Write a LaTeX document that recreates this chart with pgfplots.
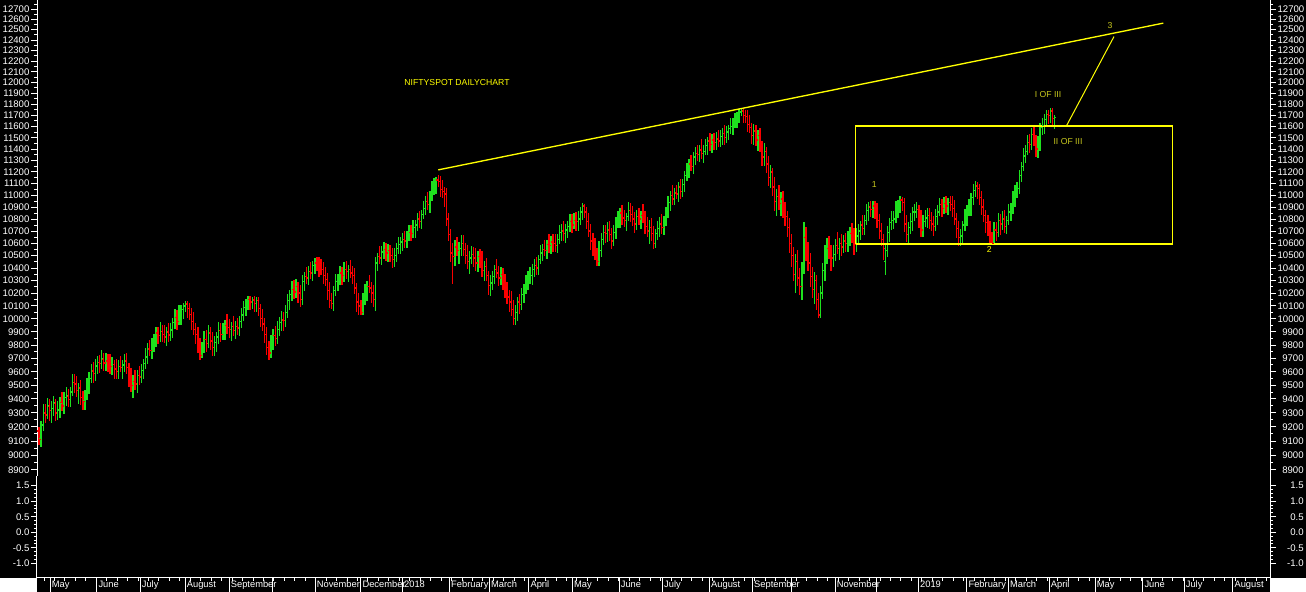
\documentclass[border=0pt]{standalone}
\usepackage{pgfplots}
\pgfplotsset{compat=1.18}
\usepackage{pgfplotstable}
\usepackage{fontspec}
\setmainfont{Liberation Sans}

\definecolor{upgreen}{RGB}{30,225,30}
\definecolor{dnred}{RGB}{250,0,0}
\definecolor{ylw}{RGB}{255,255,0}
\definecolor{olv}{RGB}{200,200,30}

% daily bars: index, open, high, low, close
\pgfplotstableread{
i o h l c
0 9170 9200 9070 9110
1 9120 9245 9060 9210
2 9215 9365 9170 9300
3 9300 9365 9225 9285
4 9290 9410 9255 9350
5 9345 9400 9245 9315
6 9315 9385 9230 9330
7 9330 9420 9275 9370
8 9365 9400 9240 9300
9 9300 9385 9250 9320
10 9320 9415 9265 9370
11 9375 9450 9315 9350
12 9350 9450 9290 9410
13 9410 9485 9350 9425
14 9420 9470 9345 9395
15 9395 9485 9340 9450
16 9455 9585 9420 9520
17 9520 9585 9445 9510
18 9505 9565 9415 9460
19 9460 9520 9365 9480
20 9480 9540 9360 9410
21 9410 9460 9320 9380
22 9385 9465 9320 9430
23 9430 9555 9390 9490
24 9495 9595 9435 9550
25 9550 9660 9515 9600
26 9605 9670 9515 9585
27 9585 9695 9535 9640
28 9645 9720 9585 9670
29 9670 9725 9590 9660
30 9660 9765 9620 9695
31 9690 9740 9605 9665
32 9665 9740 9605 9680
33 9680 9730 9600 9670
34 9665 9730 9580 9640
35 9640 9710 9575 9655
36 9655 9690 9550 9620
37 9620 9695 9550 9600
38 9600 9685 9545 9640
39 9640 9720 9595 9630
40 9630 9690 9545 9650
41 9650 9735 9600 9680
42 9680 9740 9585 9630
43 9630 9665 9490 9560
44 9560 9630 9450 9500
45 9500 9575 9410 9530
46 9530 9610 9465 9510
47 9510 9610 9445 9570
48 9570 9645 9500 9560
49 9560 9660 9515 9610
50 9610 9695 9550 9660
51 9660 9775 9620 9710
52 9715 9815 9655 9770
53 9770 9840 9715 9760
54 9760 9850 9695 9815
55 9815 9885 9750 9830
56 9830 9940 9785 9890
57 9890 9935 9810 9870
58 9870 9975 9820 9905
59 9905 9950 9825 9880
60 9880 9950 9815 9860
61 9860 9940 9795 9900
62 9900 9965 9820 9875
63 9875 9965 9830 9915
64 9915 10005 9855 9970
65 9970 10075 9920 10010
66 10010 10065 9915 9980
67 9980 10110 9950 10050
68 10050 10110 9955 10070
69 10070 10125 10000 10100
70 10100 10140 10050 10115
71 10115 10135 10010 10080
72 10080 10120 9990 10035
73 10035 10085 9915 9980
74 9980 10050 9875 9920
75 9920 9965 9805 9880
76 9880 9940 9740 9800
77 9800 9850 9690 9720
78 9720 9825 9700 9790
79 9790 9905 9740 9840
80 9840 9915 9745 9810
81 9810 9950 9775 9890
82 9890 9935 9765 9830
83 9830 9895 9720 9780
84 9780 9870 9715 9820
85 9820 9895 9750 9860
86 9860 9975 9810 9910
87 9910 9965 9825 9880
88 9880 9970 9835 9900
89 9900 9990 9835 9950
90 9950 10035 9880 9935
91 9935 10000 9855 9920
92 9920 9975 9830 9940
93 9940 10025 9870 9910
94 9910 9985 9845 9940
95 9940 10010 9875 9930
96 9930 10020 9865 9980
97 9980 10085 9930 10030
98 10030 10140 9985 10090
99 10090 10155 10020 10120
100 10120 10175 10070 10150
101 10150 10180 10065 10130
102 10130 10170 10075 10145
103 10145 10175 10055 10120
104 10120 10170 10050 10140
105 10140 10170 10025 10080
106 10080 10115 9940 10000
107 10000 10075 9910 9960
108 9960 10005 9815 9880
109 9880 9940 9725 9780
110 9780 9830 9685 9740
111 9740 9875 9700 9820
112 9820 9920 9765 9870
113 9870 9945 9790 9850
114 9850 9985 9810 9920
115 9920 10015 9865 9970
116 9970 10060 9905 9990
117 9990 10050 9905 9985
118 9985 10105 9940 10050
119 10050 10190 10005 10140
120 10140 10225 10070 10190
121 10190 10295 10140 10230
122 10230 10305 10155 10210
123 10210 10310 10165 10250
124 10250 10290 10125 10200
125 10200 10265 10090 10150
126 10150 10340 10105 10290
127 10290 10365 10220 10330
128 10330 10405 10270 10320
129 10320 10415 10265 10370
130 10370 10450 10315 10360
131 10360 10460 10295 10420
132 10420 10480 10350 10440
133 10440 10490 10375 10420
134 10420 10485 10330 10400
135 10400 10470 10340 10390
136 10390 10445 10275 10340
137 10340 10410 10255 10310
138 10310 10360 10145 10220
139 10220 10285 10080 10140
140 10140 10200 10075 10120
141 10120 10255 10060 10220
142 10220 10355 10180 10290
143 10290 10355 10215 10300
144 10300 10420 10265 10360
145 10360 10410 10265 10340
146 10340 10445 10290 10390
147 10390 10460 10315 10370
148 10370 10425 10290 10390
149 10390 10465 10320 10360
150 10360 10415 10275 10340
151 10340 10400 10195 10240
152 10240 10280 10055 10130
153 10130 10205 10030 10100
154 10100 10150 10030 10050
155 10050 10205 10030 10170
156 10170 10275 10110 10210
157 10210 10295 10135 10250
158 10250 10340 10205 10240
159 10240 10290 10125 10200
160 10200 10265 10090 10150
161 10150 10490 10060 10440
162 10440 10525 10380 10490
163 10490 10575 10430 10480
164 10480 10575 10425 10530
165 10530 10610 10475 10550
166 10550 10600 10455 10520
167 10520 10595 10450 10540
168 10540 10590 10445 10500
169 10500 10565 10400 10470
170 10470 10565 10410 10500
171 10500 10605 10445 10560
172 10560 10650 10515 10590
173 10590 10650 10515 10610
174 10610 10685 10540 10630
175 10630 10700 10565 10620
176 10620 10705 10560 10670
177 10670 10755 10620 10690
178 10690 10755 10615 10680
179 10680 10790 10645 10730
180 10730 10790 10645 10750
181 10750 10855 10700 10800
182 10800 10870 10725 10780
183 10780 10875 10720 10840
184 10840 10955 10800 10890
185 10890 10995 10835 10950
186 10950 11030 10875 10920
187 10920 11040 10855 11000
188 11000 11125 10950 11070
189 11070 11150 11005 11090
190 11090 11160 11010 11130
191 11130 11175 11070 11120
192 11120 11165 10985 11050
193 11050 11130 10975 11030
194 11030 11070 10905 11010
195 11010 11065 10740 10800
196 10800 10850 10615 10670
197 10670 10715 10450 10520
198 10520 10600 10275 10490
199 10490 10625 10415 10570
200 10570 10650 10495 10540
201 10540 10610 10435 10560
202 10560 10665 10500 10600
203 10600 10670 10495 10550
204 10550 10605 10430 10500
205 10500 10585 10390 10450
206 10450 10535 10355 10480
207 10480 10580 10435 10510
208 10510 10570 10405 10480
209 10480 10565 10380 10440
210 10440 10540 10365 10490
211 10490 10555 10400 10460
212 10460 10535 10330 10380
213 10380 10455 10295 10410
214 10410 10480 10295 10340
215 10340 10380 10185 10260
216 10260 10345 10180 10280
217 10280 10380 10225 10330
218 10330 10425 10270 10390
219 10390 10475 10320 10360
220 10360 10415 10255 10320
221 10320 10410 10265 10350
222 10350 10400 10225 10300
223 10300 10355 10160 10220
224 10220 10290 10115 10170
225 10170 10225 10050 10130
226 10130 10215 10020 10070
227 10070 10145 9955 10000
228 10000 10110 9955 10050
229 10050 10170 9985 10130
230 10130 10195 10040 10110
231 10110 10240 10065 10190
232 10190 10275 10120 10240
233 10240 10345 10190 10280
234 10280 10375 10225 10330
235 10330 10410 10275 10340
236 10340 10430 10265 10390
237 10390 10475 10330 10420
238 10420 10490 10345 10400
239 10400 10505 10340 10470
240 10470 10585 10430 10520
241 10520 10595 10455 10550
242 10550 10630 10495 10540
243 10540 10630 10475 10590
244 10590 10675 10520 10580
245 10580 10660 10515 10610
246 10610 10675 10530 10600
247 10600 10675 10530 10580
248 10580 10675 10525 10630
249 10630 10750 10595 10690
250 10690 10760 10615 10700
251 10700 10785 10620 10680
252 10680 10760 10605 10710
253 10710 10785 10640 10740
254 10740 10845 10690 10780
255 10780 10845 10685 10750
256 10750 10850 10715 10790
257 10790 10860 10705 10780
258 10780 10865 10700 10800
259 10800 10900 10755 10860
260 10860 10935 10790 10910
261 10910 10930 10810 10860
262 10860 10905 10715 10780
263 10780 10850 10655 10700
264 10700 10760 10545 10620
265 10620 10685 10500 10560
266 10560 10640 10465 10520
267 10520 10565 10415 10450
268 10450 10615 10420 10540
269 10540 10685 10485 10630
270 10630 10750 10585 10690
271 10690 10750 10605 10680
272 10680 10775 10610 10710
273 10710 10780 10615 10670
274 10670 10725 10550 10620
275 10620 10755 10580 10690
276 10690 10815 10635 10770
277 10770 10870 10725 10800
278 10800 10890 10725 10850
279 10850 10915 10750 10810
280 10810 10880 10735 10790
281 10790 10855 10700 10820
282 10820 10945 10780 10870
283 10870 10935 10775 10840
284 10840 10910 10745 10800
285 10800 10860 10685 10760
286 10760 10875 10710 10820
287 10820 10890 10755 10800
288 10800 10865 10720 10830
289 10830 10925 10770 10810
290 10810 10865 10675 10740
291 10740 10820 10655 10700
292 10700 10790 10595 10730
293 10730 10805 10620 10680
294 10680 10740 10555 10600
295 10600 10715 10560 10680
296 10680 10785 10630 10720
297 10720 10815 10655 10760
298 10760 10840 10675 10730
299 10730 10830 10665 10790
300 10790 10905 10740 10850
301 10850 10990 10805 10940
302 10940 11035 10870 11000
303 11000 11085 10920 10970
304 10970 11065 10915 11020
305 11020 11090 10965 11010
306 11010 11110 10945 11070
307 11070 11135 10970 11030
308 11030 11140 10985 11090
309 11090 11205 11030 11170
310 11170 11275 11120 11210
311 11210 11315 11145 11270
312 11270 11350 11205 11250
313 11250 11370 11185 11330
314 11330 11415 11260 11360
315 11360 11440 11295 11350
316 11350 11435 11290 11390
317 11390 11485 11310 11360
318 11360 11435 11275 11380
319 11380 11490 11345 11430
320 11430 11510 11345 11470
321 11470 11545 11380 11440
322 11440 11530 11365 11480
323 11480 11545 11390 11460
324 11460 11555 11390 11490
325 11490 11565 11415 11470
326 11470 11570 11415 11510
327 11510 11590 11435 11540
328 11540 11615 11440 11500
329 11500 11600 11455 11550
330 11550 11615 11480 11580
331 11580 11675 11530 11600
332 11600 11675 11525 11630
333 11630 11720 11585 11670
334 11670 11730 11585 11690
335 11690 11755 11630 11730
336 11730 11765 11695 11740
337 11740 11760 11630 11700
338 11700 11750 11630 11690
339 11690 11745 11555 11620
340 11620 11700 11545 11590
341 11590 11630 11445 11520
342 11520 11625 11440 11560
343 11560 11610 11425 11480
344 11480 11565 11380 11520
345 11520 11585 11370 11420
346 11420 11475 11255 11330
347 11330 11450 11255 11380
348 11380 11420 11195 11270
349 11270 11335 11080 11150
350 11150 11260 11065 11200
351 11200 11235 10990 11070
352 11070 11155 10870 10950
353 10950 11055 10825 10990
354 10990 11090 10875 10930
355 10930 11030 10825 10970
356 10970 11035 10810 10880
357 10880 10940 10745 10820
358 10820 10865 10650 10730
359 10730 10805 10520 10600
360 10600 10675 10405 10500
361 10500 10570 10295 10350
362 10350 10510 10205 10450
363 10450 10545 10260 10320
364 10320 10400 10185 10250
365 10250 10445 10150 10400
366 10400 10775 10350 10650
367 10650 10735 10455 10530
368 10530 10610 10375 10440
369 10440 10520 10245 10330
370 10330 10405 10160 10230
371 10230 10370 10115 10300
372 10300 10345 10070 10150
373 10150 10200 10004 10030
374 10030 10255 10010 10200
375 10200 10440 10155 10380
376 10380 10590 10295 10530
377 10530 10645 10430 10560
378 10560 10660 10475 10530
379 10530 10585 10380 10480
380 10480 10585 10410 10510
381 10510 10635 10455 10580
382 10580 10690 10515 10560
383 10560 10640 10465 10600
384 10600 10675 10500 10570
385 10570 10670 10525 10620
386 10620 10685 10530 10600
387 10600 10705 10530 10640
388 10640 10735 10575 10680
389 10680 10770 10605 10650
390 10650 10730 10505 10590
391 10590 10725 10530 10660
392 10660 10760 10605 10700
393 10700 10785 10630 10750
394 10750 10835 10670 10720
395 10720 10835 10665 10790
396 10790 10930 10755 10870
397 10870 10945 10785 10900
398 10900 10955 10820 10880
399 10880 10950 10805 10910
400 10910 10950 10800 10870
401 10870 10935 10730 10790
402 10790 10845 10635 10700
403 10700 10770 10575 10630
404 10630 10680 10465 10560
405 10450 10600 10340 10540
406 10540 10740 10485 10690
407 10690 10805 10610 10770
408 10770 10865 10710 10790
409 10790 10865 10715 10800
410 10800 10950 10765 10890
411 10890 10960 10805 10910
412 10910 10990 10850 10960
413 10960 10985 10865 10940
414 10940 10975 10690 10760
415 10760 10835 10610 10670
416 10670 10775 10605 10730
417 10730 10850 10675 10780
418 10780 10900 10705 10860
419 10860 10925 10780 10860
420 10860 10940 10805 10880
421 10880 10915 10730 10800
422 10800 10875 10650 10710
423 10710 10835 10655 10780
424 10780 10880 10735 10810
425 10810 10890 10725 10830
426 10830 10895 10720 10790
427 10790 10860 10705 10760
428 10760 10825 10660 10740
429 10740 10885 10700 10820
430 10820 10915 10755 10860
431 10860 10980 10825 10920
432 10920 10970 10815 10890
433 10890 10985 10840 10930
434 10930 10995 10855 10910
435 10910 10975 10830 10940
436 10940 10995 10870 10920
437 10920 10995 10815 10890
438 10890 10960 10755 10800
439 10800 10850 10645 10720
440 10720 10785 10580 10650
441 10650 10720 10575 10660
442 10660 10785 10590 10750
443 10750 10885 10700 10820
444 10820 10915 10745 10870
445 10870 10970 10825 10900
446 10900 11020 10825 10980
447 10980 11095 10920 11040
448 11040 11120 10985 11080
449 11080 11110 10970 11060
450 11060 11100 10920 10980
451 10980 11035 10835 10900
452 10900 10970 10775 10830
453 10830 10880 10685 10770
454 10770 10835 10660 10720
455 10720 10780 10600 10650
456 10650 10695 10585 10600
457 10600 10775 10590 10710
458 10710 10775 10615 10690
459 10690 10850 10655 10790
460 10790 10840 10665 10760
461 10760 10865 10710 10800
462 10800 10880 10685 10740
463 10740 10825 10680 10790
464 10790 10925 10750 10860
465 10860 10935 10785 10880
466 10880 11040 10845 10980
467 10980 11090 10905 11050
468 11050 11115 10980 11060
469 11060 11220 11015 11170
470 11170 11285 11110 11250
471 11250 11405 11210 11340
472 11340 11435 11275 11380
473 11380 11520 11345 11460
474 11460 11530 11365 11440
475 11440 11585 11390 11530
476 11530 11600 11425 11480
477 11480 11525 11330 11400
478 11400 11515 11320 11440
479 11440 11635 11385 11590
480 11590 11680 11525 11610
481 11610 11710 11535 11660
482 11660 11750 11600 11710
483 11710 11750 11620 11700
484 11700 11765 11630 11740
485 11740 11765 11600 11670
486 11670 11705 11580 11680
}\nifty

\pgfdeclareplotmark{otick}{\pgfpathmoveto{\pgfqpoint{-1.3pt}{0pt}}\pgfpathlineto{\pgfqpoint{0pt}{0pt}}\pgfusepathqstroke}
\pgfdeclareplotmark{ctick}{\pgfpathmoveto{\pgfqpoint{0pt}{0pt}}\pgfpathlineto{\pgfqpoint{1.3pt}{0pt}}\pgfusepathqstroke}

\tikzset{
  mlab/.style={anchor=base west, inner sep=0pt, xshift=1.2pt, yshift=-7.2pt, white, font=\fontsize{7}{8}\selectfont},
  note/.style={inner sep=0pt, font=\fontsize{6.5}{7}\selectfont},
}

\begin{document}
\begin{tikzpicture}
\useasboundingbox (0,0) rectangle (979.5pt,444pt);
\fill[black] (0,0) rectangle (979.5pt,444pt);
\fill[white] (0,0) rectangle (27.75pt,10.5pt);
\fill[white] (952.5pt,0) rectangle (979.5pt,10.5pt);

% price pane, labels on the left, with the bars
\begin{axis}[scale only axis, width=924.75pt, height=357pt,
    at={(27.75pt,444pt)}, anchor=north west,
    xmin=37, xmax=1270, ymode=log, ymin=8859, ymax=12791,
    axis x line=none, axis y line*=left,
    axis line style={white, line width=0.75pt},
    tick style={white, line width=0.75pt},
    ytick align=outside, major tick length=4.5pt, minor tick length=2.25pt,
    yticklabel style={white, font=\fontsize{7.2}{8}\selectfont, inner sep=1pt},
    ytick={8900,9000,...,12700},
    yticklabels={8900,9000,9100,9200,9300,9400,9500,9600,9700,9800,9900,10000,10100,10200,10300,10400,10500,10600,10700,10800,10900,11000,11100,11200,11300,11400,11500,11600,11700,11800,11900,12000,12100,12200,12300,12400,12500,12600,12700},
    minor ytick={8950,9050,...,12750},
    unbounded coords=discard]
  \addplot[only marks, mark=ctick, color=upgreen, mark options={solid, line width=1pt},
      restrict expr to domain={\thisrow{c}-\thisrow{o}}{0:5000},
      error bars/.cd, y dir=both, y explicit, error mark=none,
      error bar style={draw=upgreen, line width=1pt}]
    table[x expr=39+2.09*\thisrow{i}, y=c,
          y error plus expr=\thisrow{h}-\thisrow{c},
          y error minus expr=\thisrow{c}-\thisrow{l}] {\nifty};
  \addplot[only marks, mark=otick, color=upgreen, mark options={solid, line width=1pt},
      restrict expr to domain={\thisrow{c}-\thisrow{o}}{0:5000}]
    table[x expr=39+2.09*\thisrow{i}, y=o] {\nifty};
  \addplot[only marks, mark=ctick, color=dnred, mark options={solid, line width=1pt},
      restrict expr to domain={\thisrow{c}-\thisrow{o}}{-5000:-0.5},
      error bars/.cd, y dir=both, y explicit, error mark=none,
      error bar style={draw=dnred, line width=1pt}]
    table[x expr=39+2.09*\thisrow{i}, y=c,
          y error plus expr=\thisrow{h}-\thisrow{c},
          y error minus expr=\thisrow{c}-\thisrow{l}] {\nifty};
  \addplot[only marks, mark=otick, color=dnred, mark options={solid, line width=1pt},
      restrict expr to domain={\thisrow{c}-\thisrow{o}}{-5000:-0.5}]
    table[x expr=39+2.09*\thisrow{i}, y=o] {\nifty};

  % drawn lines
  \addplot[ylw, line width=1pt] coordinates {(438.3,11218) (1163.3,12563)};
  \addplot[ylw, line width=1.1pt] coordinates {(855.3,10594) (1172.7,10594) (1172.7,11603) (855.3,11603) (855.3,10594)};
  \addplot[ylw, line width=0.75pt] coordinates {(1066.7,11610) (1114,12434)};

  \node[note, ylw] at (axis cs:457,12004) {NIFTYSPOT DAILYCHART};
  \node[note, olv] at (axis cs:1110,12536) {3};
  \node[note, olv] at (axis cs:1048,11886) {I OF III};
  \node[note, olv] at (axis cs:1068,11466) {II OF III};
  \node[note, olv] at (axis cs:874.3,11090) {1};
  \node[note, ylw] at (axis cs:989.3,10553) {2};
\end{axis}

% price pane, labels on the right
\begin{axis}[scale only axis, width=924.75pt, height=357pt,
    at={(27.75pt,444pt)}, anchor=north west,
    xmin=37, xmax=1270, ymode=log, ymin=8859, ymax=12791,
    axis x line=none, axis y line*=right,
    axis line style={white, line width=0.75pt},
    tick style={white, line width=0.75pt},
    ytick align=outside, major tick length=4.5pt, minor tick length=2.25pt,
    yticklabel style={white, font=\fontsize{7.2}{8}\selectfont, inner sep=1pt, text width=19.5pt, align=right},
    ytick={8900,9000,...,12700},
    yticklabels={8900,9000,9100,9200,9300,9400,9500,9600,9700,9800,9900,10000,10100,10200,10300,10400,10500,10600,10700,10800,10900,11000,11100,11200,11300,11400,11500,11600,11700,11800,11900,12000,12100,12200,12300,12400,12500,12600,12700},
    minor ytick={8950,9050,...,12750}]
\end{axis}

% lower pane, both sides
\begin{axis}[scale only axis, width=924.75pt, height=76.5pt,
    at={(27.75pt,87pt)}, anchor=north west,
    xmin=37, xmax=1270, ymin=-1.47, ymax=1.81,
    axis x line=none, axis y line*=left,
    axis line style={white, line width=0.75pt},
    tick style={white, line width=0.75pt},
    ytick align=outside, major tick length=4.5pt, minor tick length=2.25pt,
    yticklabel style={white, font=\fontsize{7.2}{8}\selectfont, inner sep=1pt},
    ytick={-1,-0.5,0,0.5,1,1.5}, yticklabels={-1.0,-0.5,0.0,0.5,1.0,1.5},
    minor y tick num=3]
\end{axis}
\begin{axis}[scale only axis, width=924.75pt, height=76.5pt,
    at={(27.75pt,87pt)}, anchor=north west,
    xmin=37, xmax=1270, ymin=-1.47, ymax=1.81,
    axis x line=none, axis y line*=right,
    axis line style={white, line width=0.75pt},
    tick style={white, line width=0.75pt},
    ytick align=outside, major tick length=4.5pt, minor tick length=2.25pt,
    yticklabel style={white, font=\fontsize{7.2}{8}\selectfont, inner sep=1pt, text width=19.5pt, align=right},
    ytick={-1,-0.5,0,0.5,1,1.5}, yticklabels={-1.0,-0.5,0.0,0.5,1.0,1.5},
    minor y tick num=3]
\end{axis}

% date axis
\begin{axis}[scale only axis, width=924.75pt, height=76.5pt,
  at={(27.75pt,87pt)}, anchor=north west,
  xmin=37, xmax=1270, ymin=-1.47, ymax=1.81,
  axis y line=none, axis x line*=bottom,
  axis line style={white, line width=0.75pt},
  tick style={white, line width=0.75pt},
  xtick align=outside, major tick length=10.5pt, minor tick length=2.25pt,
  xtick={50,96.7,140,185,229,272.7,315,360.7,402.3,449.3,489.3,528.7,572.3,619,662.3,709.3,752.3,791.7,835,876,918.3,966.7,1008.3,1049,1095,1142.7,1184,1232.7},
  xticklabel={},
  minor xtick={44,54.45,...,1266},
  clip=false]
  \node[mlab] at (axis cs:50,-1.47) {May};
  \node[mlab] at (axis cs:96.7,-1.47) {June};
  \node[mlab] at (axis cs:140,-1.47) {July};
  \node[mlab] at (axis cs:185,-1.47) {August};
  \node[mlab] at (axis cs:229,-1.47) {September};
  \node[mlab] at (axis cs:315,-1.47) {November};
  \node[mlab] at (axis cs:360.7,-1.47) {December};
  \node[mlab] at (axis cs:402.3,-1.47) {2018};
  \node[mlab] at (axis cs:449.3,-1.47) {February};
  \node[mlab] at (axis cs:489.3,-1.47) {March};
  \node[mlab] at (axis cs:528.7,-1.47) {April};
  \node[mlab] at (axis cs:572.3,-1.47) {May};
  \node[mlab] at (axis cs:619,-1.47) {June};
  \node[mlab] at (axis cs:662.3,-1.47) {July};
  \node[mlab] at (axis cs:709.3,-1.47) {August};
  \node[mlab] at (axis cs:752.3,-1.47) {September};
  \node[mlab] at (axis cs:835,-1.47) {November};
  \node[mlab] at (axis cs:918.3,-1.47) {2019};
  \node[mlab] at (axis cs:966.7,-1.47) {February};
  \node[mlab] at (axis cs:1008.3,-1.47) {March};
  \node[mlab] at (axis cs:1049,-1.47) {April};
  \node[mlab] at (axis cs:1095,-1.47) {May};
  \node[mlab] at (axis cs:1142.7,-1.47) {June};
  \node[mlab] at (axis cs:1184,-1.47) {July};
  \node[mlab] at (axis cs:1232.7,-1.47) {August};
\end{axis}
\end{tikzpicture}
\end{document}
